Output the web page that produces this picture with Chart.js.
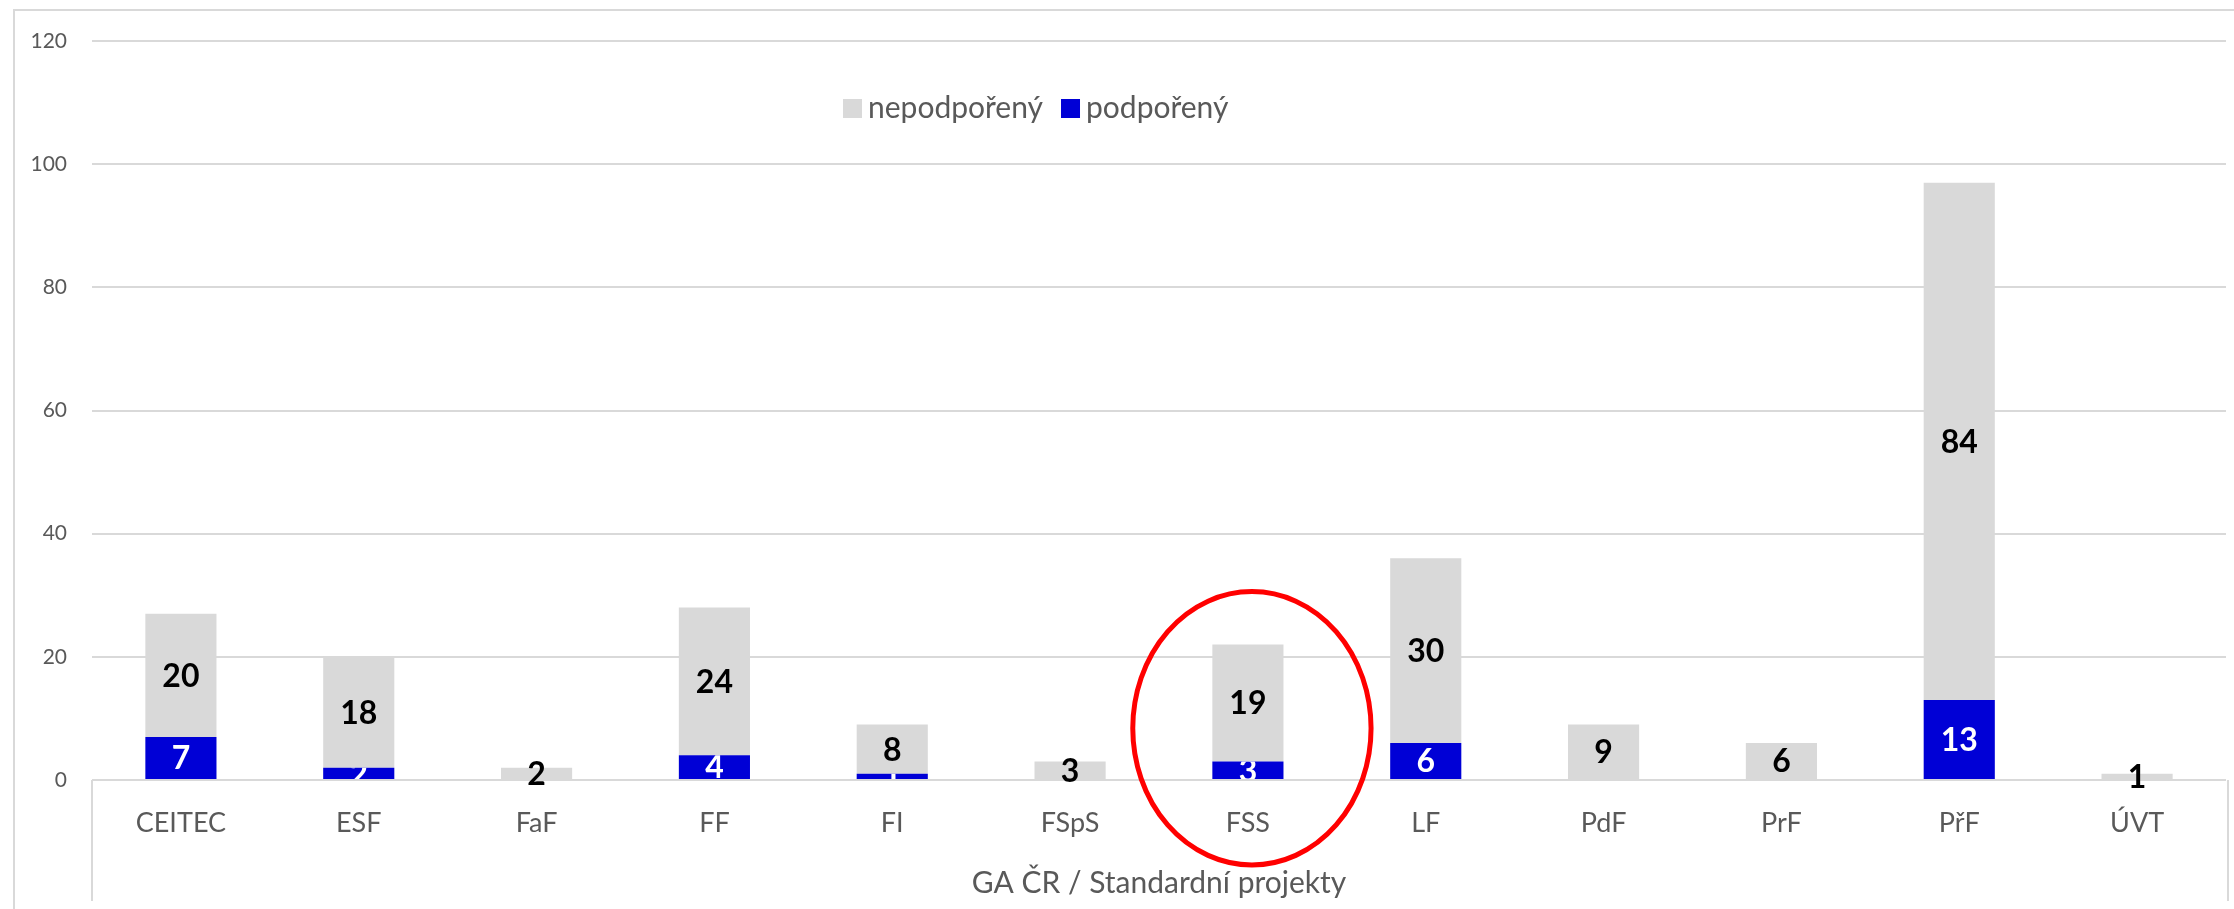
<!DOCTYPE html>
<html>
<head>
<meta charset="utf-8">
<script src="https://cdn.jsdelivr.net/npm/chart.js@4"></script>
<style>
  html, body { margin: 0; padding: 0; background: #fff; }
  canvas { display: block; }
</style>
</head>
<body>
<canvas id="chart" width="2234" height="909"></canvas>
<script>
const categories = ["CEITEC", "ESF", "FaF", "FF", "FI", "FSpS", "FSS", "LF", "PdF", "PrF", "PřF", "ÚVT"];
const podporeny = [7, 2, 0, 4, 1, 0, 3, 6, 0, 0, 13, 0];
const nepodporeny = [20, 18, 2, 24, 8, 3, 19, 30, 9, 6, 84, 1];
const axisTitle = "GA ČR / Standardní projekty";
const highlighted = "FSS";

const GRID = "#d9d9d9";
const TEXT = "#595959";
const FONT = "Lato";

// light frame around the chart + the category "table" lines under the axis
const framePlugin = {
  id: "frame",
  beforeDraw(chart) {
    const { ctx, chartArea: a } = chart;
    ctx.save();
    ctx.strokeStyle = GRID;
    ctx.lineWidth = 2;
    ctx.beginPath();
    ctx.moveTo(14, chart.height);
    ctx.lineTo(14, 10);
    ctx.lineTo(chart.width, 10);
    ctx.moveTo(a.left, a.bottom);
    ctx.lineTo(a.left, chart.height - 8);
    ctx.moveTo(a.right + 2, a.bottom);
    ctx.lineTo(a.right + 2, chart.height - 8);
    ctx.stroke();
    ctx.restore();
  }
};

// value in the middle of every stacked segment
const segmentLabels = {
  id: "segmentLabels",
  afterDatasetsDraw(chart) {
    const ctx = chart.ctx;
    chart.data.datasets.forEach((ds, i) => {
      chart.getDatasetMeta(i).data.forEach((bar, j) => {
        const v = ds.data[j];
        if (!v) return;
        const { x, y, base, width } = bar.getProps(["x", "y", "base", "width"], true);
        ctx.save();
        if (ds.clipLabel) {
          ctx.beginPath();
          ctx.rect(x - width / 2, y, width, base - y);
          ctx.clip();
        }
        ctx.font = "bold 32px " + FONT;
        ctx.fillStyle = ds.labelColor;
        ctx.textAlign = "center";
        ctx.textBaseline = "middle";
        ctx.fillText(String(v), x, (y + base) / 2 + 1);
        ctx.restore();
      });
    });
  }
};

// legend sits inside the plot, like in the Excel original
const insideLegend = {
  id: "insideLegend",
  afterDraw(chart, args, opts) {
    const ctx = chart.ctx;
    ctx.save();
    ctx.font = "30px " + FONT;
    ctx.textBaseline = "middle";
    let x = opts.x;
    const y = opts.y;
    chart.data.datasets.slice().reverse().forEach(ds => {
      ctx.fillStyle = ds.backgroundColor;
      ctx.fillRect(x, y - 9, 19, 19);
      x += 25;
      ctx.fillStyle = TEXT;
      ctx.fillText(ds.label, x, y);
      x += ctx.measureText(ds.label).width + 18;
    });
    ctx.restore();
  }
};

// red ring drawn around one category
const ringPlugin = {
  id: "ring",
  afterDraw(chart) {
    const { ctx, scales } = chart;
    const i = categories.indexOf(highlighted);
    const cx = scales.x.getPixelForValue(i) + 4;
    const step = scales.x.getPixelForValue(1) - scales.x.getPixelForValue(0);
    const cy = scales.y.getPixelForValue(8.4);
    const ry = scales.y.getPixelForValue(0) - scales.y.getPixelForValue(22.2);
    ctx.save();
    ctx.strokeStyle = "#ff0000";
    ctx.lineWidth = 5;
    ctx.beginPath();
    ctx.ellipse(cx, cy, step * 0.67, ry, 0, 0, Math.PI * 2);
    ctx.stroke();
    ctx.restore();
  }
};

new Chart(document.getElementById("chart"), {
  type: "bar",
  data: {
    labels: categories,
    datasets: [
      {
        label: "podpořený",
        data: podporeny,
        backgroundColor: "#0000d6",
        labelColor: "#ffffff",
        clipLabel: true,
        barPercentage: 0.4,
        categoryPercentage: 1.0,
      },
      {
        label: "nepodpořený",
        data: nepodporeny,
        backgroundColor: "#d9d9d9",
        labelColor: "#000000",
        barPercentage: 0.4,
        categoryPercentage: 1.0,
      },
    ],
  },
  options: {
    responsive: false,
    animation: false,
    layout: { padding: { top: 41, right: 8, bottom: 0, left: 0 } },
    plugins: {
      legend: { display: false },
      tooltip: { enabled: false },
      insideLegend: { x: 843, y: 108 },
    },
    scales: {
      x: {
        stacked: true,
        grid: { display: false, drawTicks: false },
        border: { display: false },
        ticks: { color: TEXT, font: { family: FONT, size: 27 }, padding: 27 },
        title: {
          display: true,
          text: axisTitle,
          color: TEXT,
          font: { family: FONT, size: 30 },
          padding: { top: 20, bottom: 8 },
        },
        afterFit(scale) { scale.height = 129; },
      },
      y: {
        stacked: true,
        min: 0,
        max: 120,
        grid: { color: GRID, lineWidth: 2, drawTicks: false },
        border: { display: false },
        ticks: { stepSize: 20, color: TEXT, font: { family: FONT, size: 21 }, padding: 25 },
        afterFit(scale) { scale.width = 92; },
      },
    },
  },
  plugins: [framePlugin, segmentLabels, insideLegend, ringPlugin],
});
</script>
</body>
</html>
